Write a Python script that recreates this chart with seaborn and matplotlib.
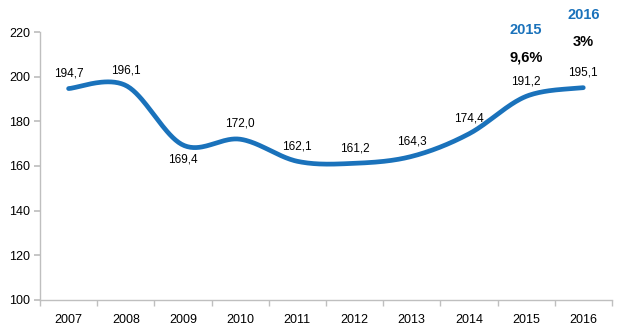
import numpy as np
import pandas as pd
import matplotlib
matplotlib.use("Agg")
import matplotlib.pyplot as plt
import seaborn as sns

years = ["2007", "2008", "2009", "2010", "2011", "2012", "2013", "2014", "2015", "2016"]
values = [194.7, 196.1, 169.4, 172.0, 162.1, 161.2, 164.3, 174.4, 191.2, 195.1]
labels = ["194,7", "196,1", "169,4", "172,0", "162,1", "161,2", "164,3", "174,4", "191,2", "195,1"]
label_below = [False, False, True, False, False, False, False, False, False, False]
notes_year = ["2015", "2016"]
notes_pct = ["9,6%", "3%"]

sns.set_theme(style="white")
plt.rcParams["font.family"] = ["Liberation Sans", "DejaVu Sans"]

BLUE = "#1a72bb"
GRAY = "#bfbfbf"

fig, ax = plt.subplots(figsize=(6.25, 3.31), dpi=100)
fig.subplots_adjust(left=0.064, right=0.979, top=0.903, bottom=0.094)

# smooth curve (Excel-like Catmull-Rom Bezier smoothing) for rendering
x = np.arange(len(values), dtype=float)
y = np.array(values, dtype=float)
xs, ys = [], []
t = np.linspace(0, 1, 40)
n = len(x)
for i in range(n - 1):
    p0 = np.array([x[i], y[i]])
    p3 = np.array([x[i + 1], y[i + 1]])
    pm = np.array([x[i - 1], y[i - 1]]) if i > 0 else p0
    pp = np.array([x[i + 2], y[i + 2]]) if i + 2 < n else p3
    p1 = p0 + (p3 - pm) / 6.0
    p2 = p3 - (pp - p0) / 6.0
    b = ((1 - t) ** 3)[:, None] * p0 + (3 * (1 - t) ** 2 * t)[:, None] * p1 \
        + (3 * (1 - t) * t ** 2)[:, None] * p2 + (t ** 3)[:, None] * p3
    xs.extend(b[:, 0]); ys.extend(b[:, 1])
curve = pd.DataFrame({"x": xs, "y": ys})
sns.lineplot(data=curve, x="x", y="y", ax=ax, color=BLUE, linewidth=3.4, sort=False)

for i, (v, lab, below) in enumerate(zip(values, labels, label_below)):
    ax.annotate(lab, (i, v), xytext=(0, -10.5 if below else 11), textcoords="offset points",
                ha="center", va="center", fontsize=8.5, color="#000000")

offsets = {"2015": (47.5, 28), "2016": (52, 33)}
for yr, pct in zip(notes_year, notes_pct):
    i = years.index(yr)
    v = values[i]
    oy, op = offsets[yr]
    ax.annotate(yr, (i, v), xytext=(0, oy), textcoords="offset points",
                ha="center", va="center", fontsize=10.5, fontweight="bold", color=BLUE,
                annotation_clip=False)
    ax.annotate(pct, (i, v), xytext=(0, op), textcoords="offset points",
                ha="center", va="center", fontsize=10.5, fontweight="bold", color="#000000",
                annotation_clip=False)

ax.set_xlim(-0.5, len(years) - 0.5)
ax.set_ylim(100, 220)
ax.set_yticks(np.arange(100, 221, 20))
ax.set_xticks(x)
ax.set_xticklabels(years)
ax.set_xticks(np.arange(-0.5, len(years), 1.0), minor=True)
ax.tick_params(axis="x", which="major", length=0, labelsize=9, pad=10, colors="#000000")
ax.tick_params(axis="x", which="minor", length=4, color=GRAY, direction="out", bottom=True)
ax.tick_params(axis="y", which="major", length=4, color=GRAY, labelsize=9, direction="out",
               left=True, pad=3, labelcolor="#000000")
ax.set_xlabel("")
ax.set_ylabel("")
for s in ["top", "right"]:
    ax.spines[s].set_visible(False)
for s in ["left", "bottom"]:
    ax.spines[s].set_color(GRAY)
    ax.spines[s].set_linewidth(1)
ax.grid(False)

fig.savefig("out.png", dpi=100)
